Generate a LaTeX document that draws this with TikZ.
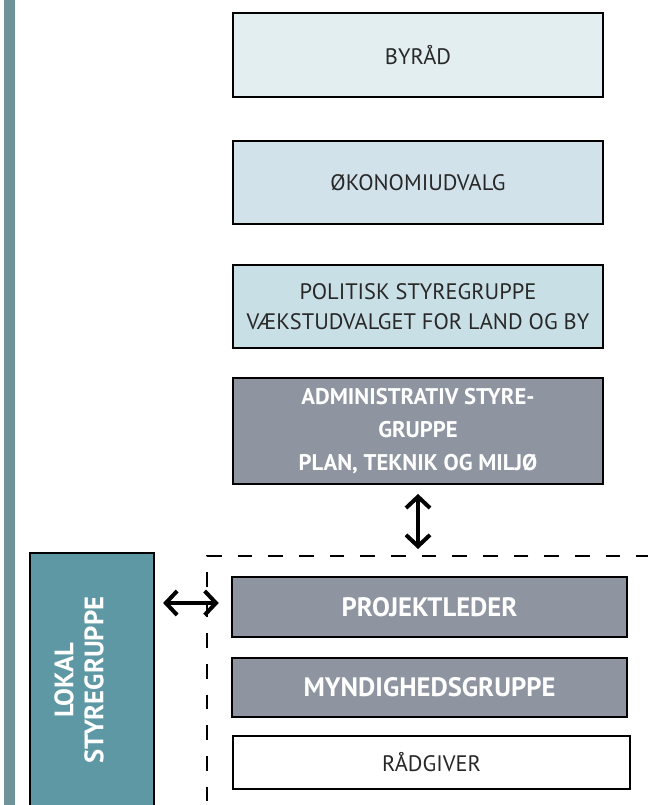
\documentclass[tikz,border=0pt]{standalone}
\usepackage{fontspec}
\setmainfont{PT Sans}
\usetikzlibrary{arrows.meta}

\definecolor{barcol}{RGB}{110,148,153}
\definecolor{byfill}{RGB}{227,238,240}
\definecolor{okfill}{RGB}{210,226,234}
\definecolor{polfill}{RGB}{200,223,229}
\definecolor{admfill}{RGB}{142,149,160}
\definecolor{lokfill}{RGB}{94,152,164}
\definecolor{txtcol}{RGB}{40,40,40}

\begin{document}
\begin{tikzpicture}[x=0.75pt,y=0.75pt,yscale=-1,xscale=1,
  lightbox/.style={draw=black, line width=1.9pt, minimum width=277.5pt, minimum height=62.25pt,
    inner sep=0pt, align=center, text=txtcol, font=\fontsize{16.8}{23}\selectfont},
  darkbox/.style={draw=black, line width=1.9pt, fill=admfill, minimum width=296.25pt,
    inner sep=0pt, align=center, text=white, font=\fontsize{20}{22}\selectfont\bfseries},
  dblarrow/.style={line width=3pt, {Straight Barb[length=8.5pt,width=18pt]}-{Straight Barb[length=8.5pt,width=18pt]}}]
\useasboundingbox (0,0) rectangle (648,805);

%Left bar
\fill [barcol] (4,0) rectangle (15,805);

%Dashed frame round the project group
\node [draw=black, line width=1.5pt, dash pattern={on 11pt off 12pt}, minimum width=339.75pt,
  minimum height=205.5pt, inner sep=0pt] (team) at (433.5,693) {};

% Text Node
\node [lightbox, fill=byfill, minimum height=63pt] (byraad) at (418,55) {BYRÅD};
% Text Node
\node [lightbox, fill=okfill] (okonomi) at (418,182.5) {ØKONOMIUDVALG};
% Text Node
\node [lightbox, fill=polfill] (politisk) at (418,306.5) {POLITISK STYREGRUPPE\\VÆKSTUDVALGET FOR LAND OG BY};
% Text Node
\node [darkbox, minimum width=277.5pt, minimum height=79.5pt, font=\fontsize{17}{24.75}\selectfont\bfseries]
  (admin) at (418,431) {ADMINISTRATIV STYRE-\\GRUPPE\\PLAN, TEKNIK OG MILJØ};

% Text Node
\node [darkbox, minimum height=45pt] (projekt) at (429.5,607) {PROJEKTLEDER};
% Text Node
\node [darkbox, minimum height=44.25pt] (myndig) at (429.5,687.5) {MYNDIGHEDSGRUPPE};
% Text Node
\node [lightbox, fill=white, line width=0.9pt, minimum width=297.75pt, minimum height=39.75pt]
  (raadgiver) at (431.5,762.5) {RÅDGIVER};

%Local steering group
\node [draw=black, line width=1.6pt, fill=lokfill, minimum width=93pt, minimum height=190.5pt,
  inner sep=0pt] (lokal) at (92,680) {};
\node [rotate=90, align=center, text=white, inner sep=0pt,
  font=\fontsize{20}{22.5}\selectfont\bfseries] (lokaltxt) at (79,680) {LOKAL\\STYREGRUPPE};

%Arrows
\draw [dblarrow, shorten <=6.5pt, shorten >=4.5pt] (admin.south) -- (admin.south |- team.north);
\draw [dblarrow, shorten <=6pt, shorten >=9pt] (lokal.east |- 0,603) -- (projekt.west |- 0,603);

\end{tikzpicture}
\end{document}
